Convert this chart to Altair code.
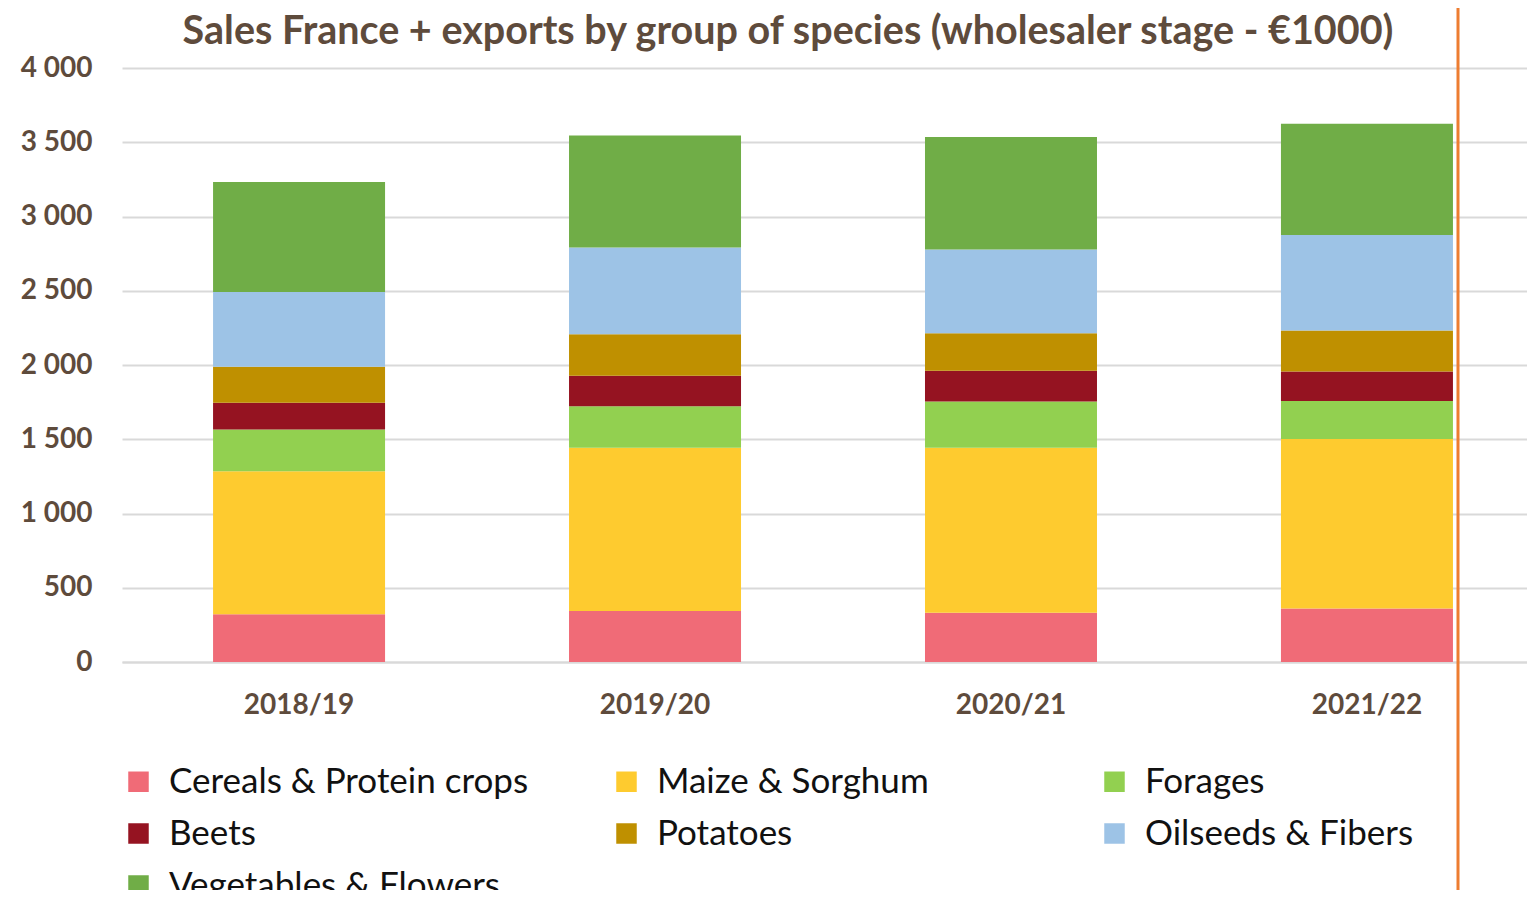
import altair as alt
import pandas as pd

title_text = ["Sales France + exports by group of species (wholesaler stage - €1000)"]
seasons = ["2018/19", "2019/20", "2020/21", "2021/22"]
groups = ["Cereals & Protein crops", "Maize & Sorghum", "Forages", "Beets",
          "Potatoes", "Oilseeds & Fibers", "Vegetables & Flowers"]
colors = ["#F06B77", "#FECB2F", "#92D050", "#951321", "#BF9000", "#9DC3E6", "#70AD47"]

cereals = [321, 343, 331, 360]
maize = [964, 1100, 1112, 1142]
forages = [281, 279, 312, 255]
beets = [179, 206, 206, 199]
potatoes = [243, 279, 253, 277]
oilseeds = [503, 584, 563, 642]
vegetables = [742, 754, 759, 750]

series = [cereals, maize, forages, beets, potatoes, oilseeds, vegetables]
rows = []
for gi, (g, vals) in enumerate(zip(groups, series)):
    for s, v in zip(seasons, vals):
        rows.append({"season": s, "group": g, "value": v, "order": gi})
df = pd.DataFrame(rows)

brown = "#5E4B3C"
W, H = 1405, 594

bars = alt.Chart(df).mark_bar(size=172).encode(
    x=alt.X("season:N", sort=seasons, title=None,
            scale=alt.Scale(paddingInner=0.517, paddingOuter=0.232, align=0.5515),
            axis=alt.Axis(labelAngle=0, labelFontSize=28, labelFontWeight="bold",
                          labelColor=brown, labelFont="Lato", labelPadding=29,
                          ticks=False, domain=True, domainColor="#D9D9D9",
                          domainWidth=2)),
    y=alt.Y("value:Q", stack="zero", title=None,
            scale=alt.Scale(domain=[0, 4000], nice=False),
            axis=alt.Axis(values=[0, 500, 1000, 1500, 2000, 2500, 3000, 3500, 4000],
                          labelExpr="replace(format(datum.value, ','), ',', ' ')",
                          labelFontSize=28, labelFontWeight="bold", labelColor=brown,
                          labelFont="Lato", labelPadding=30, ticks=False, domain=False,
                          gridColor="#D9D9D9", gridWidth=2)),
    color=alt.Color("group:N",
                    scale=alt.Scale(domain=groups, range=colors),
                    legend=alt.Legend(title=None, orient="none", legendX=-1, legendY=696,
                                      direction="horizontal", columns=3,
                                      gridAlign="all", columnPadding=80,
                                      rowPadding=16, symbolType="square", symbolSize=420,
                                      symbolStrokeWidth=0, labelFontSize=35,
                                      labelFont="Lato", labelColor="#111111",
                                      labelOffset=13, labelLimit=600)),
    order=alt.Order("order:Q", sort="ascending"),
)

rule_df = pd.DataFrame({"x": [1]})
rule = alt.Chart(rule_df).mark_rule(color="#ED7D31", strokeWidth=3, clip=False).encode(
    x=alt.value(1336), y=alt.value(-68), y2=alt.value(840)
)

title = alt.Chart(pd.DataFrame({"t": title_text})).mark_text(
    font="Lato", fontSize=39.5, fontWeight="bold", color=brown,
    align="center", baseline="alphabetic", clip=False
).encode(text="t:N", x=alt.value(666), y=alt.value(-24))

chart = alt.layer(bars, rule, title).properties(
    width=W, height=H,
    autosize=alt.AutoSizeParams(type="none"),
    padding={"left": 114, "top": 60, "right": 0, "bottom": 228},
).configure_view(stroke=None)

chart.save("out.html", embed_options={"renderer": "svg", "actions": False})
